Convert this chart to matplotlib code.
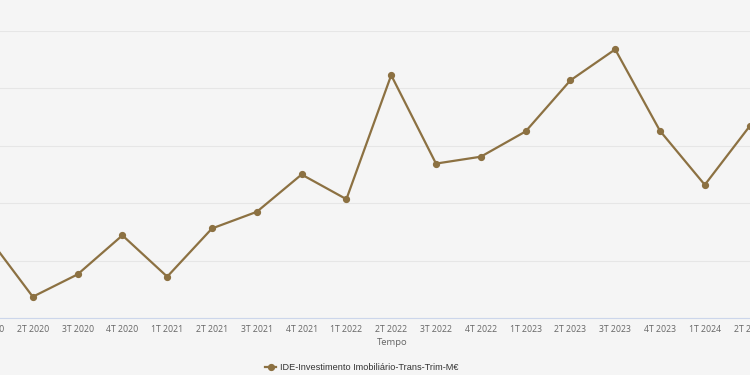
import matplotlib
matplotlib.use('Agg')
import matplotlib.pyplot as plt

# dados (trimestres, valores em M€ estimados a partir do gráfico)
trimestres = ['1T 2020', '2T 2020', '3T 2020', '4T 2020',
              '1T 2021', '2T 2021', '3T 2021', '4T 2021',
              '1T 2022', '2T 2022', '3T 2022', '4T 2022',
              '1T 2023', '2T 2023', '3T 2023', '4T 2023',
              '1T 2024', '2T 2024']
valores = [141, 37, 76, 144,
           72, 156, 185, 250,
           207, 423, 269, 281,
           325, 414, 468, 326,
           232, 334]
serie = 'IDE-Investimento Imobiliário-Trans-Trim-M€'

W, H = 750, 375
fundo = '#f5f5f5'
cor = '#8c7142'

fig = plt.figure(figsize=(W / 100, H / 100), dpi=100, facecolor=fundo)

# eixo mais largo que a figura (o gráfico original está cortado nos lados)
L, R = -60, 810
top, bottom = 31, 318
ax = fig.add_axes([L / W, 1 - bottom / H, (R - L) / W, (bottom - top) / H])
ax.set_facecolor(fundo)

x = list(range(len(trimestres)))
ax.plot(x, valores, color=cor, linewidth=1.6, marker='o', markersize=4.2,
        label=serie, zorder=3)

x0, passo = -12, 44.8
ax.set_xlim((L - x0) / passo, (R - x0) / passo)
ax.set_ylim(0, 500)
ax.set_yticks([0, 100, 200, 300, 400, 500])
ax.set_yticklabels([])
ax.tick_params(axis='y', length=0)
ax.grid(axis='y', color='#e6e6e6', linewidth=0.8)
ax.set_axisbelow(True)

ax.set_xticks(x)
ax.set_xticklabels(trimestres, fontsize=6.3, color='#666666', family='Open Sans')
ax.tick_params(axis='x', length=0, pad=5)

for s in ['top', 'right', 'left']:
    ax.spines[s].set_visible(False)
ax.spines['bottom'].set_color('#ccd6eb')
ax.spines['bottom'].set_linewidth(0.8)

fig.text(392 / W, 1 - 342.5 / H, 'Tempo', ha='center', va='center',
         fontsize=6.8, color='#666666', family='Open Sans')

leg = fig.legend(loc='center', bbox_to_anchor=(362 / W, 1 - 367.5 / H), frameon=False,
                 prop={'family': 'Liberation Sans', 'size': 6.55}, handlelength=1.2,
                 handletextpad=0.4)
for t in leg.get_texts():
    t.set_color('#333333')

fig.savefig('out.png', dpi=100, facecolor=fundo)
